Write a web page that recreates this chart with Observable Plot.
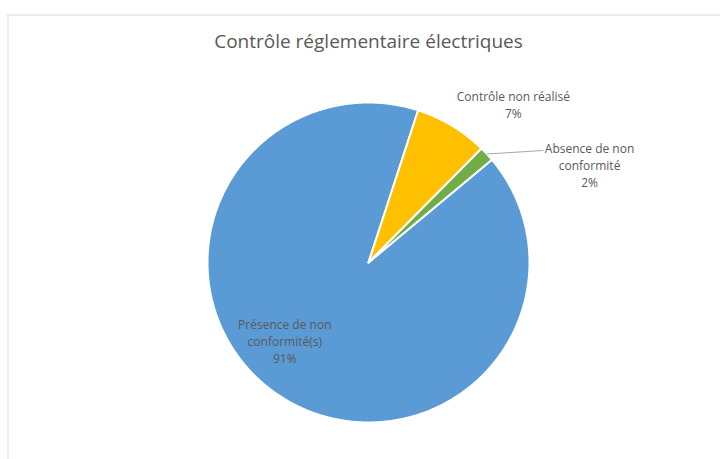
<!DOCTYPE html>
<html>
<head>
<meta charset="utf-8">
<script src="https://cdn.jsdelivr.net/npm/d3@7"></script>
<script src="https://cdn.jsdelivr.net/npm/@observablehq/plot@0.6"></script>
<style>
  html, body { margin: 0; padding: 0; background: #fff; }
  #wrap { position: relative; width: 720px; height: 459px; overflow: hidden; }
  #border { position: absolute; left: 7px; top: 14px; width: 740px; height: 480px;
            border-top: 2px solid #ececec; border-left: 2px solid #ececec; box-sizing: border-box; }
  #chart { position: absolute; left: 0; top: 0; }
</style>
</head>
<body>
<div id="wrap"><div id="border"></div><div id="chart"></div></div>
<script>
const title = "Contrôle réglementaire électriques";
const categories = ["Présence de non\nconformité(s)", "Contrôle non réalisé", "Absence de non\nconformité"];
const values = [91.1, 7.4, 1.5];
const pctLabels = ["91%", "7%", "2%"];
const colors = ["#5b9bd5", "#ffc000", "#70ad47"];
const firstSliceAngle = 50; // degrees, clockwise from 12 o'clock

// Build slice outlines from the values
const total = d3.sum(values);
const rad = Math.PI / 180;
let acc = firstSliceAngle;
const slices = values.map((v, i) => {
  const a0 = acc, a1 = acc + 360 * v / total;
  acc = a1;
  const pts = [{x: 0, y: 0}];
  const n = Math.max(2, Math.ceil(a1 - a0) * 2);
  for (let k = 0; k <= n; k++) {
    const a = (a0 + (a1 - a0) * k / n) * rad;
    pts.push({x: Math.sin(a), y: Math.cos(a)});
  }
  pts.push({x: 0, y: 0});
  return {i, a0, a1, pts};
});

const labelText = categories.map((c, i) => c + "\n" + pctLabels[i]);
// label anchor positions (layout)
const labelPos = [
  {x: -0.52, y: -0.487},
  {x: 0.90, y: 0.99},
  {x: 1.373, y: 0.61}
];
const labels = labelText.map((t, i) => ({t, ...labelPos[i]}));

// leader line for the small slice
const g = slices[2];
const gm = ((g.a0 + g.a1) / 2) * rad;
const leader = [{x: Math.sin(gm), y: Math.cos(gm)}, {x: 1.085, y: 0.70}];

const plot = Plot.plot({
  width: 720,
  height: 459,
  margin: 0,
  x: {domain: [-1, 1], range: [207, 529], axis: null},
  y: {domain: [-1, 1], range: [422, 102], axis: null},
  style: {background: "transparent", fontFamily: "'Open Sans', sans-serif"},
  marks: [
    ...slices.map(s => Plot.line(s.pts, {x: "x", y: "y", fill: colors[s.i], stroke: "white", strokeWidth: 2, strokeLinejoin: "round", curve: "linear"})),
    Plot.line(leader, {x: "x", y: "y", stroke: "#a6a6a6", strokeWidth: 1}),
    Plot.text(labels, {x: "x", y: "y", text: "t", fill: "#595959", fontSize: 12, lineHeight: 1.4, textAnchor: "middle"}),
    Plot.text([title], {x: 0, y: 1.38, text: d => d, fill: "#595959", fontSize: 19, textAnchor: "middle"})
  ]
});
document.getElementById("chart").appendChild(plot);
</script>
</body>
</html>
